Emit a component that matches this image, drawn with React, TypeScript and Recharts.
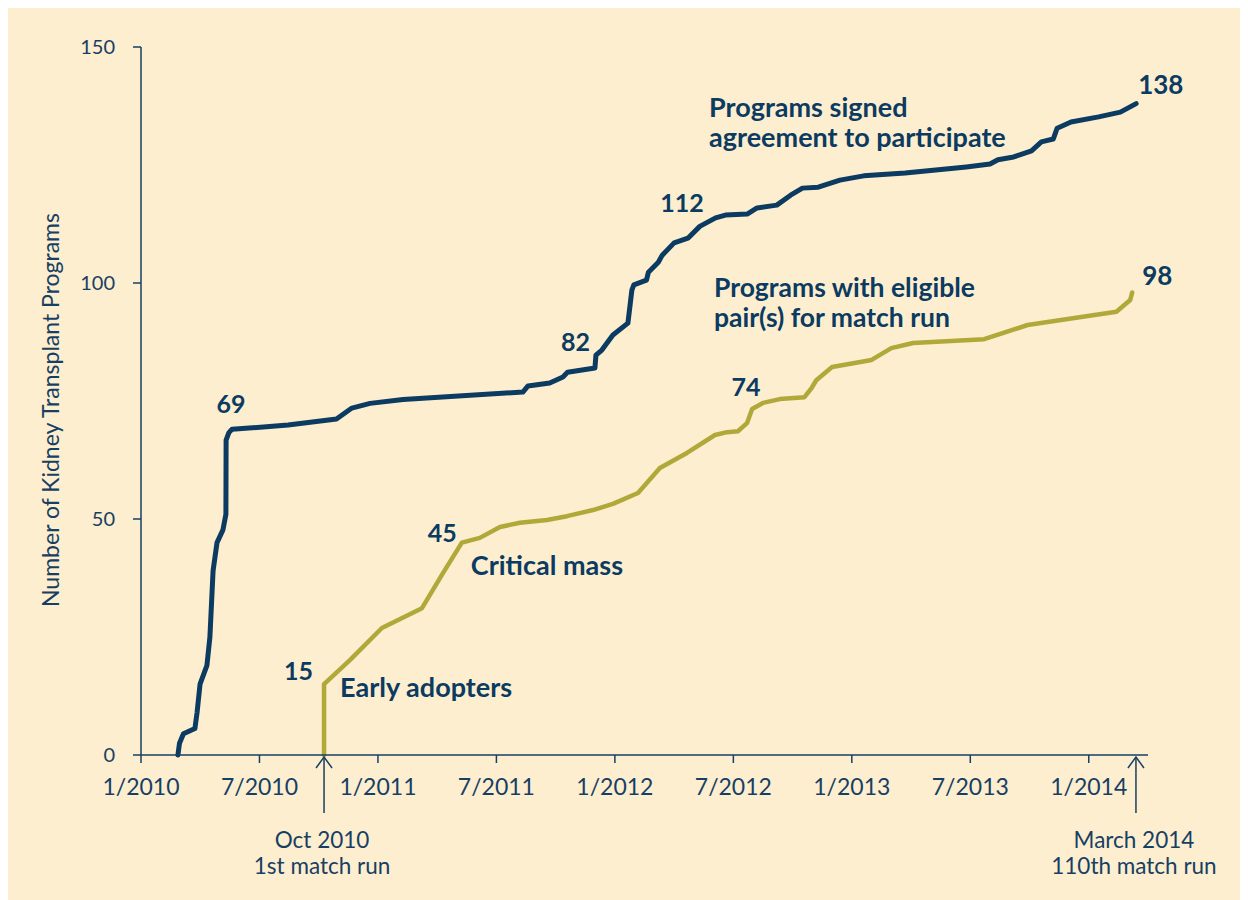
import { LineChart, Line, XAxis, YAxis, ReferenceDot } from 'recharts';

// x values are months since January 2010
const monthTicks = [0, 6, 12, 18, 24, 30, 36, 42, 48];
const monthTickLabels = ['1/2010', '7/2010', '1/2011', '7/2011', '1/2012', '7/2012', '1/2013', '7/2013', '1/2014'];
const countTicks = [0, 50, 100, 150];

// Programs signed agreement to participate
const signedMonths = [
  1.87, 1.95, 2.15, 2.73, 2.84, 2.99, 3.34, 3.49, 3.65, 3.85, 4.15, 4.3, 4.31, 4.45, 4.61,
  7.45, 9.9, 10.68, 11.6, 13.27, 19.34, 19.6, 20.7, 21.37, 21.6, 22.99, 23.04, 23.34, 23.9,
  24.66, 24.86, 24.96, 25.6, 25.7, 26.2, 26.4, 27.0, 27.7, 28.3, 29.1, 29.6, 30.7, 31.2,
  32.2, 32.9, 33.5, 34.3, 35.4, 36.6, 38.7, 41.8, 43.0, 43.4, 44.2, 45.1, 45.6, 46.2, 46.4,
  47.1, 48.5, 49.6, 50.4,
];
const signedCounts = [
  0, 2.5, 4.5, 5.6, 9, 15, 19, 25, 39, 45, 47.7, 51, 66.7, 68.3, 69,
  69.9, 71.2, 73.5, 74.5, 75.3, 76.9, 78.2, 78.8, 80.1, 81.1, 82, 84.7, 85.8, 89,
  91.5, 98.5, 99.6, 100.6, 102.3, 104.4, 105.9, 108.5, 109.5, 112, 113.8, 114.4, 114.6, 115.9,
  116.5, 118.6, 120.1, 120.3, 121.8, 122.7, 123.3, 124.6, 125.2, 126.1, 126.7, 128, 129.9, 130.5, 132.8,
  134.1, 135.2, 136.2, 138,
];

// Programs with eligible pair(s) for match run
const eligibleMonths = [
  9.27, 9.27, 10.58, 12.2, 14.23, 15.3, 16.25, 17.16, 18.18, 19.19, 20.56, 21.57, 22.89, 23.9,
  25.17, 26.28, 27.65, 29.07, 29.68, 30.23, 30.69, 30.95, 31.5, 32.35, 33.6, 33.97, 34.2, 35.0,
  37.0, 38.0, 39.1, 42.7, 44.9, 49.4, 50.1, 50.2,
];
const eligibleCounts = [
  0, 15, 20.1, 26.9, 31.1, 38.6, 45, 46, 48.3, 49.2, 49.8, 50.6, 51.9, 53.2,
  55.5, 60.8, 64, 67.8, 68.4, 68.6, 70.3, 73.3, 74.6, 75.4, 75.8, 77.8, 79.4, 82.2,
  83.7, 86.2, 87.3, 88.1, 91.1, 93.9, 96.4, 98,
];

const matchRunMonths = [9.27, 50.39];
const matchRunNotes = [
  ['Oct 2010', '1st match run'],
  ['March 2014', '110th match run'],
];

const NAVY = '#0b3b60';
const OLIVE = '#b0a93a';
const INK = '#173f63';
const BG = '#fdeed0';
const FONT = 'Lato, "Open Sans", sans-serif';

const signedData = signedMonths.map((m, i) => ({ month: m, count: signedCounts[i] }));
const eligibleData = eligibleMonths.map((m, i) => ({ month: m, count: eligibleCounts[i] }));

const boldText = (lines: string[], dx: number, dy: number, anchor: string, size = 25, lineGap = 30) =>
  (p: any) => (
    <g>
      {lines.map((t, i) => (
        <text
          key={i}
          x={p.cx + dx}
          y={p.cy + dy + i * lineGap}
          textAnchor={anchor as any}
          fontSize={size}
          fontWeight={700}
          fill={NAVY}
          fontFamily={FONT}
        >
          {t}
        </text>
      ))}
    </g>
  );

const matchArrow = (lines: string[]) => (p: any) => (
  <g>
    <line x1={p.cx} y1={p.cy + 2} x2={p.cx} y2={p.cy + 58} stroke={INK} strokeWidth={1.5} />
    <polyline
      points={`${p.cx - 8},${p.cy + 13} ${p.cx},${p.cy + 2} ${p.cx + 8},${p.cy + 13}`}
      fill="none"
      stroke={INK}
      strokeWidth={1.5}
    />
    <text x={p.cx - 2} y={p.cy + 93} textAnchor="middle" fontSize={22.5} fill={INK} fontFamily={FONT}>
      {lines[0]}
    </text>
    <text x={p.cx - 2} y={p.cy + 119} textAnchor="middle" fontSize={22.5} fill={INK} fontFamily={FONT}>
      {lines[1]}
    </text>
  </g>
);

const yTitle = (p: any) => (
  <text
    x={p.cx - 82}
    y={p.cy + 9}
    transform={`rotate(-90, ${p.cx - 82}, ${p.cy + 9})`}
    textAnchor="middle"
    fontSize={23}
    fill={INK}
    fontFamily={FONT}
  >
    Number of Kidney Transplant Programs
  </text>
);

const last = (a: number[]) => a[a.length - 1];

export default function App() {
  return (
    <div style={{ width: 1240, height: 892, background: BG, fontFamily: FONT }}>
      <LineChart width={1240} height={892} margin={{ top: 39, right: 100, left: 73, bottom: 115 }}>
        <XAxis
          type="number"
          dataKey="month"
          domain={[0, 51]}
          ticks={monthTicks}
          tickFormatter={(v) => monthTickLabels[monthTicks.indexOf(v)] ?? ''}
          tickSize={8}
          tickMargin={16}
          axisLine={{ stroke: INK, strokeWidth: 1.5 }}
          tickLine={{ stroke: INK, strokeWidth: 1.5 }}
          tick={{ fill: INK, fontSize: 23 }}
          allowDataOverflow
        />
        <YAxis
          type="number"
          dataKey="count"
          domain={[0, 150]}
          ticks={countTicks}
          tickSize={8}
          tickMargin={18}
          axisLine={{ stroke: INK, strokeWidth: 1.5 }}
          tickLine={{ stroke: INK, strokeWidth: 1.5 }}
          tick={{ fill: INK, fontSize: 20 }}
        />
        <Line
          data={eligibleData}
          dataKey="count"
          type="linear"
          stroke={OLIVE}
          strokeWidth={4.5}
          strokeLinejoin="round"
          strokeLinecap="round"
          dot={false}
          activeDot={false}
          isAnimationActive={false}
        />
        <Line
          data={signedData}
          dataKey="count"
          type="linear"
          stroke={NAVY}
          strokeWidth={5}
          strokeLinejoin="round"
          strokeLinecap="round"
          dot={false}
          activeDot={false}
          isAnimationActive={false}
        />

        <ReferenceDot x={0} y={75} shape={yTitle} />

        {matchRunMonths.map((m, i) => (
          <ReferenceDot key={`run${i}`} x={m} y={0} shape={matchArrow(matchRunNotes[i])} />
        ))}

        {/* value callouts on the signed line */}
        <ReferenceDot x={signedMonths[14]} y={signedCounts[14]} shape={boldText(['69'], -1, -16, 'middle')} />
        <ReferenceDot x={signedMonths[25]} y={signedCounts[25]} shape={boldText(['82'], -5, -17, 'end')} />
        <ReferenceDot x={signedMonths[38]} y={signedCounts[38]} shape={boldText(['112'], 4, -14, 'end')} />
        <ReferenceDot x={last(signedMonths)} y={last(signedCounts)} shape={boldText(['138'], 2, -10, 'start', 26)} />

        {/* value callouts on the eligible line */}
        <ReferenceDot x={eligibleMonths[1]} y={eligibleCounts[1]} shape={boldText(['15'], -11, -4, 'end')} />
        <ReferenceDot x={eligibleMonths[6]} y={eligibleCounts[6]} shape={boldText(['45'], -5, -1, 'end')} />
        <ReferenceDot x={eligibleMonths[22]} y={eligibleCounts[22]} shape={boldText(['74'], -17, -7, 'middle')} />
        <ReferenceDot x={last(eligibleMonths)} y={last(eligibleCounts)} shape={boldText(['98'], 10, -7, 'start', 26)} />

        {/* phase notes */}
        <ReferenceDot x={eligibleMonths[1]} y={eligibleCounts[1]} shape={boldText(['Early adopters'], 16, 13, 'start', 27)} />
        <ReferenceDot x={eligibleMonths[6]} y={eligibleCounts[6]} shape={boldText(['Critical mass'], 9, 32, 'start', 27)} />

        {/* series names */}
        <ReferenceDot
          x={28.77}
          y={135.2}
          shape={boldText(['Programs signed', 'agreement to participate'], 0, 0, 'start', 27, 30)}
        />
        <ReferenceDot
          x={29.02}
          y={96.8}
          shape={boldText(['Programs with eligible', 'pair(s) for match run'], 0, -1, 'start', 26.5, 30)}
        />
      </LineChart>
    </div>
  );
}
